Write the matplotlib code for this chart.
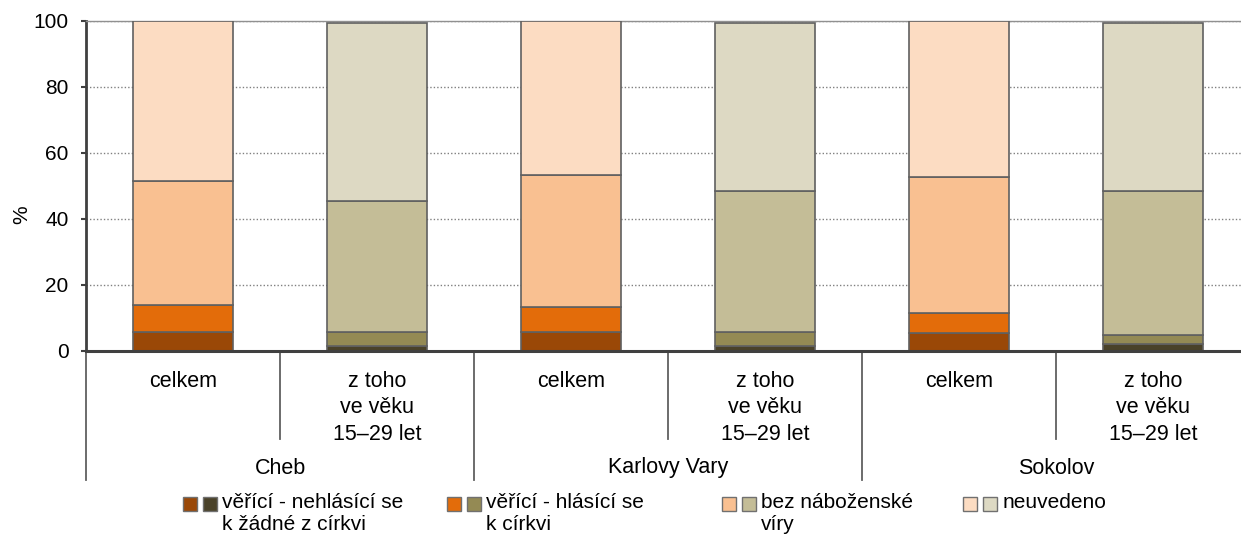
import numpy as np
import matplotlib
matplotlib.use('Agg')
import matplotlib.pyplot as plt
from matplotlib.patches import Rectangle
import matplotlib.transforms as mtransforms

plt.rcParams['font.family'] = ['Liberation Sans', 'DejaVu Sans']

# data
regions = ['Cheb', 'Karlovy Vary', 'Sokolov']
subcats = ['celkem', 'z toho\nve věku\n15–29 let']
nehlasici = [5.8, 1.6, 5.8, 1.6, 5.3, 2.1]   # věřící - nehlásící se k žádné z církví
hlasici = [8.2, 4.2, 7.4, 4.2, 6.1, 2.6]     # věřící - hlásící se k církvi
bez_viry = [37.5, 39.6, 40.1, 42.6, 41.4, 43.7]
neuvedeno = [48.5, 54.0, 46.7, 51.0, 47.2, 51.0]

series = [nehlasici, hlasici, bez_viry, neuvedeno]
legend_labels = ['věřící - nehlásící se\nk žádné z církvi',
                 'věřící - hlásící se\nk církvi',
                 'bez náboženské\nvíry',
                 'neuvedeno']
colors_all = ['#9A4807', '#E36C0A', '#F9C091', '#FCDCC2']     # celkem
colors_young = ['#4A4229', '#948A54', '#C4BD97', '#DDD9C3']   # 15-29 let

W, H = 1241, 534
fig = plt.figure(figsize=(W / 100, H / 100), dpi=100)

def fx(px):
    return px / W

def fy(py):
    return 1 - py / H

ax_top, ax_bot = 20.7, 351
ax = fig.add_axes([fx(86), fy(ax_bot), fx(W - 86), (ax_bot - ax_top) / H])

x = np.arange(6)
width = 100 / 194
bottom = np.zeros(6)
for i, vals in enumerate(series):
    cols = [colors_all[i] if k % 2 == 0 else colors_young[i] for k in range(6)]
    ax.bar(x, vals, width, bottom=bottom, color=cols, edgecolor='#606060',
           linewidth=1.2, zorder=3)
    bottom += np.array(vals)

ax.set_xlim(-0.5, -0.5 + (W - 86) / 194)
ax.set_ylim(0, 100)
ax.set_yticks([0, 20, 40, 60, 80, 100])
ax.tick_params(axis='y', labelsize=15, length=3.6, width=1.5, color='#404040', pad=9)
ax.tick_params(axis='x', bottom=False, labelbottom=False)
ax.grid(axis='y', color='#808080', linewidth=1, linestyle=(0, (1, 1.5)), zorder=0)
ax.set_axisbelow(True)

ax.spines['right'].set_visible(False)
ax.spines['top'].set_color('#909090')
ax.spines['top'].set_linewidth(1)
ax.spines['left'].set_color('#404040')
ax.spines['left'].set_linewidth(2)
ax.spines['bottom'].set_color('#404040')
ax.spines['bottom'].set_linewidth(2.2)
ax.spines['bottom'].set_zorder(4)

fig.text(fx(22), fy(215), '%', rotation=90, fontsize=15, ha='center', va='center')

# two-level category axis
trans = mtransforms.blended_transform_factory(ax.transData, ax.transAxes)
span = ax_bot - ax_top

def ay(py):
    return (ax_bot - py) / span

for xs in [0.5, 2.5, 4.5]:
    ax.plot([xs, xs], [0, ay(439)], color='#606060', lw=1.3, transform=trans, clip_on=False)
for xs in [-0.5, 1.5, 3.5, 5.5]:
    ax.plot([xs, xs], [0, ay(480)], color='#606060', lw=1.3, transform=trans, clip_on=False)

for k in range(6):
    ax.text(x[k], ay(371), subcats[k % 2], transform=trans, ha='center', va='top',
            fontsize=15.5, linespacing=1.33)
for g, name in enumerate(regions):
    ax.text(2 * g + 0.5, ay(468), name, transform=trans, ha='center', va='center',
            fontsize=15.5)

# legend
leg_x = [182.7, 446.7, 721.7, 963]
for i, lab in enumerate(legend_labels):
    for j, c in enumerate([colors_all[i], colors_young[i]]):
        fig.add_artist(Rectangle((fx(leg_x[i] + j * 20), fy(510.5)), fx(14), 14 / H,
                                 facecolor=c, edgecolor='#707070', lw=1,
                                 transform=fig.transFigure))
    fig.text(fx(leg_x[i] + 39.5), fy(493), lab, fontsize=15, ha='left', va='top',
             linespacing=1.2)

fig.savefig('out.png', dpi=100)
